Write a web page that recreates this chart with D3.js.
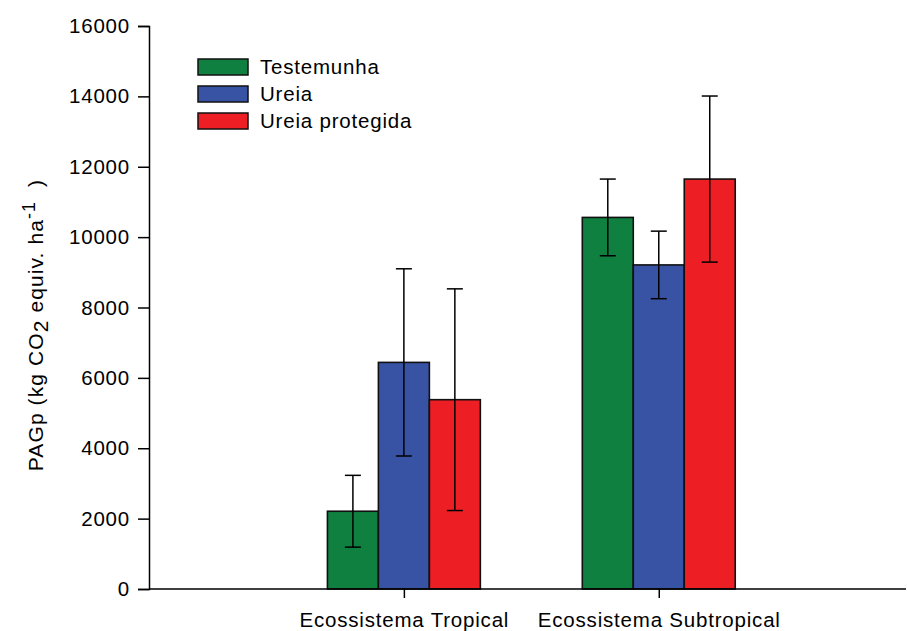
<!DOCTYPE html>
<html>
<head>
<meta charset="utf-8">
<script src="https://cdn.jsdelivr.net/npm/d3@7"></script>
<style>
  body { margin: 0; background: #fff; }
  text { font-family: "Liberation Sans", Arial, sans-serif; fill: #000; letter-spacing: 0.8px; }
</style>
</head>
<body>
<div id="Chart"></div>
<script>
// data
var categories = ["Ecossistema Tropical", "Ecossistema Subtropical"];
var series = ["Testemunha", "Ureia", "Ureia protegida"];
var colors = ["#0f8040", "#3953a4", "#ed1f24"];
var testemunha = [2210, 10560];
var ureia = [6440, 9210];
var ureiaProtegida = [5380, 11650];
var errTestemunha = [1020, 1090];
var errUreia = [2660, 960];
var errUreiaProtegida = [3150, 2360];
var yTicks = [0, 2000, 4000, 6000, 8000, 10000, 12000, 14000, 16000];

var values = [testemunha, ureia, ureiaProtegida];
var errors = [errTestemunha, errUreia, errUreiaProtegida];

var width = 907, height = 631;
var margin = {top: 26, right: 1, bottom: 42, left: 149};
var fontSize = 20.5;

var svg = d3.select("#Chart")
            .append("svg")
            .attr("class", "chart")
            .attr("width", width)
            .attr("height", height);

// categories sit at 1 and 2 on a continuous axis
var x = d3.scaleLinear().domain([0, 2.97]).range([margin.left, width - margin.right]);
var y = d3.scaleLinear().domain([0, 16000]).range([height - margin.bottom, margin.top]);
var barW = 0.2;

// bars
var bars = [];
values.forEach(function(vals, s) {
    vals.forEach(function(v, c) {
        bars.push({s: s, c: c, v: v, e: errors[s][c]});
    });
});

var g = svg.append("g");
g.selectAll(".bar")
    .data(bars)
    .enter().append("rect")
    .attr("class", "bar")
    .attr("x", d => x(d.c + 1 + (d.s - 1.5) * barW))
    .attr("width", d => x(barW) - x(0))
    .attr("y", d => y(d.v))
    .attr("height", d => y(0) - y(d.v))
    .attr("fill", d => colors[d.s])
    .attr("stroke", "#111")
    .attr("stroke-width", 1.6);

// error bars
var cx = d => x(d.c + 1 + (d.s - 1) * barW);
var eb = g.selectAll(".err")
    .data(bars)
    .enter().append("g")
    .attr("class", "err")
    .attr("stroke", "#000")
    .attr("stroke-width", 1.5);
eb.append("line")
    .attr("x1", cx)
    .attr("x2", cx)
    .attr("y1", d => y(d.v + d.e))
    .attr("y2", d => y(d.v - d.e));
eb.append("line")
    .attr("x1", d => cx(d) - 8)
    .attr("x2", d => cx(d) + 8)
    .attr("y1", d => y(d.v + d.e))
    .attr("y2", d => y(d.v + d.e));
eb.append("line")
    .attr("x1", d => cx(d) - 8)
    .attr("x2", d => cx(d) + 8)
    .attr("y1", d => y(d.v - d.e))
    .attr("y2", d => y(d.v - d.e));

// axes
var yAxis = svg.append("g")
    .attr("transform", "translate(" + margin.left + ",0)")
    .call(d3.axisLeft(y).tickValues(yTicks).tickFormat(d3.format("d")).tickSize(11).tickPadding(8));
var xAxis = svg.append("g")
    .attr("transform", "translate(0," + y(0) + ")")
    .call(d3.axisBottom(x).tickValues([1, 2]).tickFormat(d => categories[d - 1]).tickSize(9).tickPadding(14));

[yAxis, xAxis].forEach(function(a) {
    a.select(".domain").attr("stroke", "#000").attr("stroke-width", 1.5);
    a.selectAll(".tick line").attr("stroke", "#000").attr("stroke-width", 1.5);
    a.selectAll("text").attr("font-size", fontSize).attr("font-family", "Liberation Sans, Arial, sans-serif").attr("fill", "#000");
});
xAxis.select(".domain").attr("d", "M" + margin.left + ",0H" + (width - margin.right));

// y label
var yl = svg.append("text")
    .attr("transform", "translate(43,325) rotate(-90)")
    .attr("text-anchor", "middle")
    .attr("font-size", 21)
    .style("letter-spacing", "1.1px");
yl.append("tspan").text("PAGp (kg CO");
yl.append("tspan").attr("baseline-shift", "-25%").text("2");
yl.append("tspan").text(" equiv. ha");
yl.append("tspan").attr("baseline-shift", "45%").attr("font-size", 18).text("-1");
yl.append("tspan").text("\u00a0 )");

// legend
var legend = svg.append("g")
    .selectAll(".legend")
    .data(series)
    .enter().append("g")
    .attr("class", "legend")
    .attr("transform", (d, i) => "translate(198," + (59 + i * 27) + ")");
legend.append("rect")
    .attr("width", 50)
    .attr("height", 16)
    .attr("fill", (d, i) => colors[i])
    .attr("stroke", "#111")
    .attr("stroke-width", 1.5);
legend.append("text")
    .attr("x", 62)
    .attr("y", 8)
    .attr("dy", "0.36em")
    .attr("font-size", fontSize)
    .text(d => d);
</script>
</body>
</html>
